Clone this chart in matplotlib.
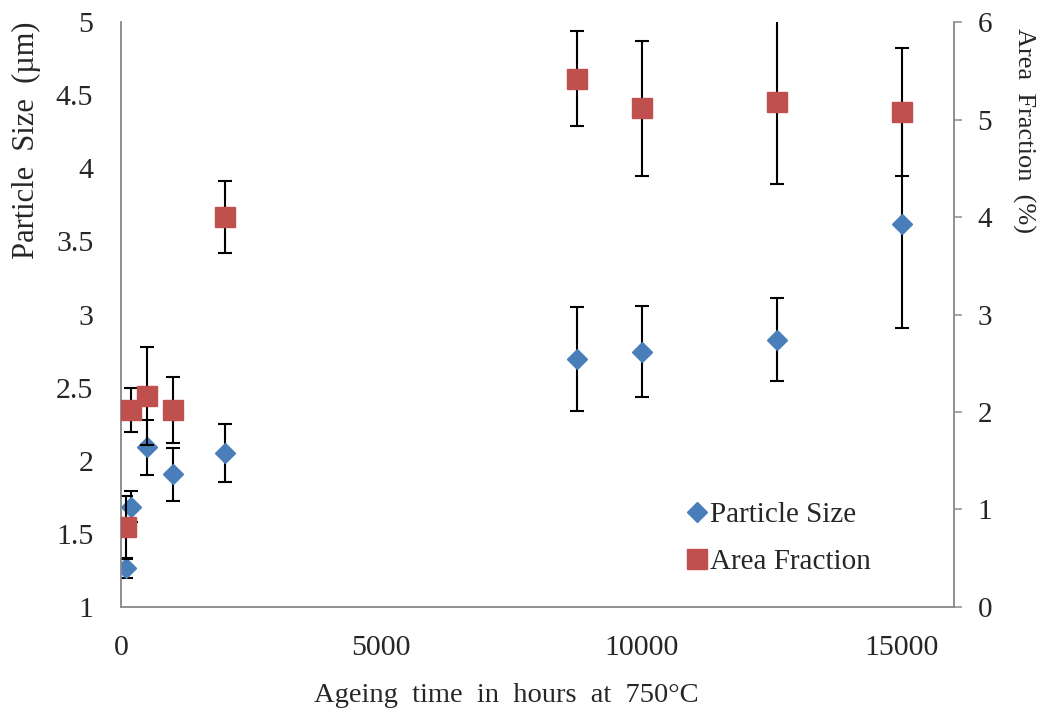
import matplotlib
matplotlib.use("Agg")
import matplotlib.pyplot as plt

plt.rcParams["font.family"] = ["Liberation Serif", "DejaVu Serif"]
plt.rcParams["font.size"] = 21

# Данные
hours = [100, 200, 500, 1000, 2000, 8760, 10000, 12600, 15000]
particle_size = [1.265, 1.686, 2.092, 1.907, 2.053, 2.694, 2.746, 2.828, 3.617]
particle_err = [0.07, 0.105, 0.19, 0.18, 0.2, 0.355, 0.31, 0.285, 0.71]
area_fraction = [0.817, 2.02, 2.164, 2.02, 4.003, 5.42, 5.115, 5.176, 5.074]
area_err = [0.32, 0.23, 0.5, 0.34, 0.37, 0.49, 0.69, 0.84, 0.655]

x_ticks = [0, 5000, 10000, 15000]
left_ticks = [1, 1.5, 2, 2.5, 3, 3.5, 4, 4.5, 5]
left_ticklabels = ["1", "1.5", "2", "2.5", "3", "3.5", "4", "4.5", "5"]
right_ticks = [0, 1, 2, 3, 4, 5, 6]

BLUE = "#4a7ebb"
RED = "#c0504d"
AXIS = "#8c8c8c"
TEXT = "#262626"

fig = plt.figure(figsize=(10.43, 7.13), dpi=100)
ax = fig.add_axes([0.116, 0.1487, 0.7987, 0.8204])
ax2 = ax.twinx()

# Particle size, left axis
ax.errorbar(hours, particle_size, yerr=particle_err, fmt="none", ecolor="black",
            elinewidth=1.5, capsize=4.7, capthick=1.5, zorder=2)
h1, = ax.plot(hours, particle_size, "D", color=BLUE, ms=10.5, mec=BLUE,
              ls="none", label="Particle Size", zorder=3)

# Area fraction, right axis
ax2.errorbar(hours, area_fraction, yerr=area_err, fmt="none", ecolor="black",
             elinewidth=1.5, capsize=4.7, capthick=1.5, zorder=2)
h2, = ax2.plot(hours, area_fraction, "s", color=RED, ms=14, mec=RED,
               ls="none", label="Area Fraction", zorder=3)

ax.set_xlim(0, 16000)
ax.set_ylim(1, 5)
ax2.set_ylim(0, 6)

ax.set_xticks(x_ticks)
ax.set_yticks(left_ticks)
ax.set_yticklabels(left_ticklabels)
ax2.set_yticks(right_ticks)

for a in (ax, ax2):
    for s in a.spines.values():
        s.set_color(AXIS)
        s.set_linewidth(1.1)
    a.spines["top"].set_visible(False)

ax.tick_params(axis="x", length=0, pad=20, colors=TEXT, labelsize=21.5)
ax.tick_params(axis="y", length=0, pad=20, colors=TEXT, labelsize=21.5)
ax2.tick_params(axis="y", length=6, width=1.1, color=AXIS, labelcolor=TEXT,
                direction="out", pad=11, labelsize=21)

ax.set_xlabel("Ageing  time  in  hours  at  750°C", color=TEXT, fontsize=20.5)
ax.xaxis.set_label_coords(0.463, -0.13)
ax.set_ylabel("Particle  Size  (µm)", color=TEXT, fontsize=22, va="center")
ax.yaxis.set_label_coords(-0.113, 0.798)
ax2.set_ylabel("Area  Fraction  (%)", color=TEXT, fontsize=19, rotation=-90,
               va="center")
ax2.yaxis.set_label_coords(1.084, 0.815)

leg = ax2.legend([h1, h2], ["Particle Size", "Area Fraction"], frameon=False,
                 loc="upper left", bbox_to_anchor=(0.662, 0.2),
                 handlelength=0.9, handletextpad=0.0, labelspacing=0.7,
                 borderaxespad=0, fontsize=21)
for t in leg.get_texts():
    t.set_color(TEXT)

fig.savefig("out.png", dpi=100, facecolor="white")
